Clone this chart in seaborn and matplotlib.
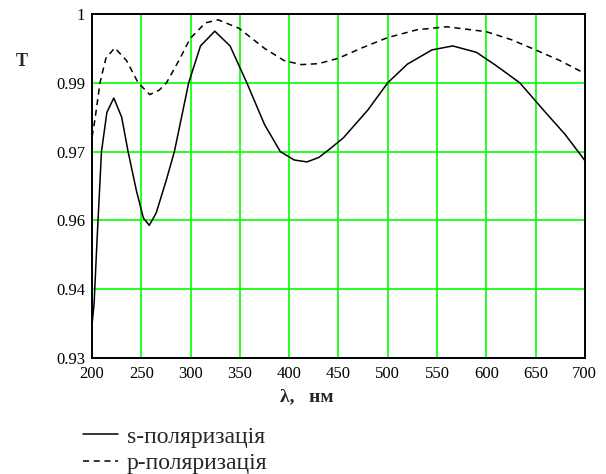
import matplotlib
matplotlib.use("Agg")
import matplotlib.pyplot as plt
import matplotlib.ticker as mticker
import numpy as np
import pandas as pd
import seaborn as sns

# s-polarisation transmission
s_wavelength = [200, 202, 205, 209.5, 215, 222, 230, 236.5, 245, 252, 258, 265,
                275, 283.5, 298, 310, 324.5, 340, 357, 375, 391, 405, 418, 430,
                441, 455, 480, 500, 520, 545, 566, 590, 610, 634, 660, 680, 697, 700]
s_transmission = [0.937, 0.941, 0.954, 0.972, 0.980, 0.9829, 0.979, 0.972, 0.964,
                  0.9585, 0.957, 0.9595, 0.966, 0.972, 0.986, 0.9935, 0.9965,
                  0.9935, 0.986, 0.9775, 0.972, 0.9703, 0.9699, 0.9708, 0.9725,
                  0.9748, 0.9805, 0.986, 0.9898, 0.9927, 0.9935, 0.9922, 0.9895,
                  0.986, 0.980, 0.9755, 0.971, 0.9702]

# p-polarisation transmission
p_wavelength = [200, 203, 208, 214, 223, 235, 246.7, 258.5, 268, 275.5, 288,
                299.5, 315, 328, 349, 375, 395, 412.5, 430, 450, 475, 500, 530,
                560, 600, 625, 650, 675, 700]
p_transmission = [0.975, 0.9787, 0.986, 0.991, 0.9931, 0.9905, 0.986, 0.9836,
                  0.9845, 0.986, 0.9905, 0.995, 0.9982, 0.9988, 0.9971, 0.993,
                  0.9905, 0.9897, 0.9899, 0.991, 0.9932, 0.9952, 0.9968, 0.9974,
                  0.9964, 0.9948, 0.9927, 0.9905, 0.9879]

series_names = ["s-поляризація", "p-поляризація"]
x_ticks = [200, 250, 300, 350, 400, 450, 500, 550, 600, 650, 700]
# Mathcad divides 0.93..1 into five steps and rounds the labels
y_tick_labels = ["0.93", "0.94", "0.96", "0.97", "0.99", "1"]

sns.set_style("white")
plt.rcParams["font.family"] = ["Liberation Serif", "DejaVu Serif"]

s_df = pd.DataFrame({"wl": s_wavelength, "T": s_transmission})
p_df = pd.DataFrame({"wl": p_wavelength, "T": p_transmission})

fig = plt.figure(figsize=(6.06, 4.74), dpi=100)
ax = fig.add_axes([0.152, 0.2447, 0.813, 0.7258])

sns.lineplot(data=s_df, x="wl", y="T", ax=ax, color="black", linewidth=1.1,
             label=series_names[0])
sns.lineplot(data=p_df, x="wl", y="T", ax=ax, color="black", linewidth=1.1,
             linestyle=(0, (4, 3)), label=series_names[1])

ax.set_xlim(200, 700)
ax.set_ylim(0.93, 1.0)
ax.set_xticks(x_ticks)
ax.yaxis.set_major_locator(mticker.FixedLocator(np.linspace(0.93, 1.0, 6)))
ax.set_yticklabels(y_tick_labels)
ax.tick_params(length=0, labelsize=12, colors="black")
ax.tick_params(axis="x", pad=6)
ax.tick_params(axis="y", pad=5)
ax.grid(True, color="#00ff00", linewidth=1.2)
for spine in ax.spines.values():
    spine.set_color("black")
    spine.set_linewidth(1.4)
ax.set_xlabel("")
ax.set_ylabel("")

fig.text(16 / 606, 1 - 62 / 474, "T", fontsize=13, fontweight="bold",
         ha="left", va="center")
fig.text(307 / 606, 1 - 397 / 474, "λ,   нм", fontsize=14, fontweight="bold",
         ha="center", va="center")

ax.legend(loc="upper left", bbox_to_anchor=(83 / 606, 1 - 426 / 474),
          bbox_transform=fig.transFigure, frameon=False, fontsize=17,
          handlelength=1.5, handletextpad=0.35, labelspacing=0.2,
          borderpad=0, borderaxespad=0)

fig.savefig("out.png", dpi=100)
